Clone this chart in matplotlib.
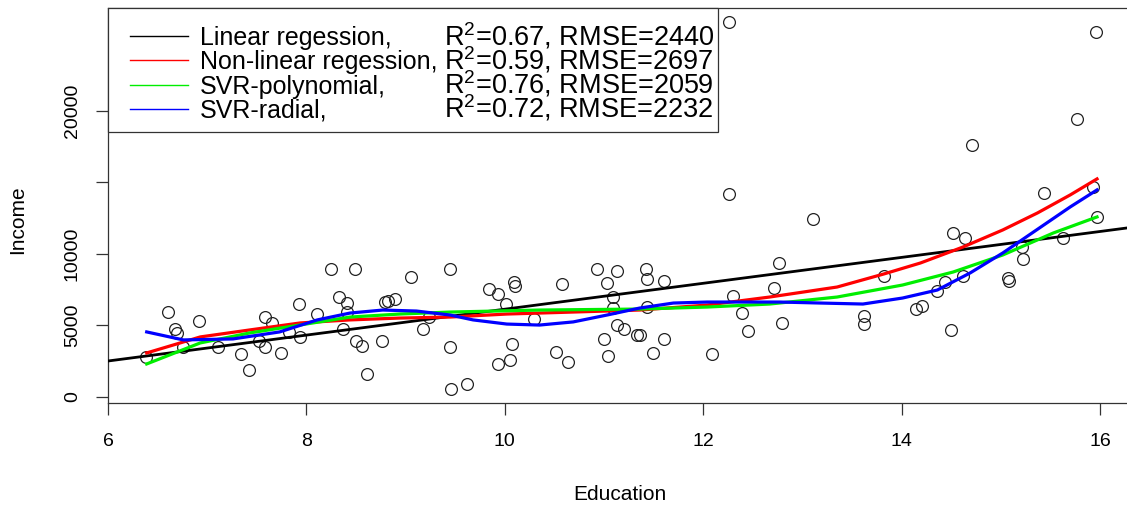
import numpy as np
import matplotlib
matplotlib.use("Agg")
from matplotlib import pyplot as plt
from matplotlib.patches import Rectangle
from matplotlib.lines import Line2D

plt.rcParams['font.family'] = ['Liberation Sans', 'DejaVu Sans']
plt.rcParams['mathtext.fontset'] = 'custom'
plt.rcParams['mathtext.rm'] = 'Liberation Sans'
plt.rcParams['mathtext.it'] = 'Liberation Sans:italic'

# observed data (education in years, income)
education = [6.38, 6.60, 6.68, 6.70, 6.76, 6.92, 7.11, 7.34, 7.42, 7.58,
             7.65, 7.52, 7.58, 7.74, 7.82, 7.93, 7.94, 8.11, 8.25, 8.49,
             8.33, 8.41, 8.41, 8.37, 8.50, 8.56, 8.61, 8.76, 8.79, 8.82,
             8.89, 9.05, 9.18, 9.24, 9.45, 9.45, 9.46, 9.62, 9.84, 9.93,
             10.01, 10.09, 10.10, 10.58, 10.29, 10.07, 10.05, 9.93, 10.52, 10.64,
             10.93, 11.13, 11.03, 11.09, 11.09, 11.13, 11.20, 11.00, 11.04, 11.33,
             11.36, 11.42, 11.43, 11.60, 11.43, 11.60, 11.49, 12.09, 12.26, 12.26,
             12.30, 12.39, 12.45, 12.71, 12.76, 12.79, 13.11, 13.62, 13.62, 13.82,
             14.15, 14.21, 14.36, 14.44, 14.50, 14.52, 14.64, 14.62, 14.71, 15.07,
             15.08, 15.21, 15.22, 15.44, 15.63, 15.77, 15.93, 15.97, 15.96]
income = [2800, 5940, 4760, 4480, 3500, 5310, 3500, 3010, 1890, 5590,
          5170, 3920, 3500, 3080, 4550, 6500, 4200, 5800, 8950, 8950,
          6990, 6570, 5940, 4760, 3920, 3570, 1610, 3920, 6640, 6710,
          6850, 8390, 4760, 5590, 8950, 3500, 560, 910, 7550, 7200,
          6500, 8040, 7760, 7900, 5450, 3710, 2590, 2310, 3150, 2450,
          8950, 8810, 7970, 6990, 6220, 5030, 4760, 4060, 2870, 4340,
          4340, 8950, 8250, 8110, 6290, 4060, 3080, 3010, 26220, 14200,
          7060, 5870, 4620, 7620, 9370, 5170, 12450, 5660, 5100, 8460,
          6150, 6360, 7410, 8040, 4690, 11470, 11120, 8460, 17620, 8320,
          8110, 10490, 9650, 14270, 11120, 19440, 14690, 12590, 25520]

# linear regression line
lin_intercept = -2917
lin_slope = 905.6

# fitted curves
nonlin_x = [6.39, 6.93, 7.43, 7.94, 8.44, 8.94, 9.45, 10.02, 10.69, 11.36,
            12.04, 12.67, 13.35, 13.82, 14.19, 14.62, 15.02, 15.37, 15.70, 15.97]
nonlin_y = [3080, 4200, 4690, 5180, 5390, 5520, 5590, 5800, 5940, 6080,
            6430, 6990, 7690, 8600, 9370, 10490, 11680, 12870, 14130, 15250]

poly_x = [6.39, 6.93, 7.43, 7.94, 8.44, 8.94, 9.45, 10.35, 11.36, 12.04,
          12.67, 13.35, 14.01, 14.52, 15.02, 15.53, 15.97]
poly_y = [2310, 3780, 4480, 5040, 5590, 5800, 5940, 6080, 6150, 6290,
          6500, 6990, 7830, 8740, 9930, 11470, 12590]

radial_x = [6.39, 6.76, 7.26, 7.73, 8.11, 8.44, 8.77, 9.11, 9.45, 9.68,
            10.02, 10.35, 10.69, 11.03, 11.36, 11.70, 12.04, 12.37, 12.77, 13.18,
            13.61, 14.01, 14.36, 14.69, 15.02, 15.36, 15.70, 15.97]
radial_y = [4550, 3990, 4060, 4550, 5390, 5870, 6080, 6010, 5730, 5390,
            5100, 5030, 5250, 5730, 6220, 6570, 6640, 6640, 6640, 6570,
            6500, 6920, 7480, 8670, 10070, 11680, 13290, 14480]

legend_names = ["Linear regession,", "Non-linear regession,",
                "SVR-polynomial,", "SVR-radial,"]
legend_stats = [r"R$^2$=0.67, RMSE=2440", r"R$^2$=0.59, RMSE=2697",
                r"R$^2$=0.76, RMSE=2059", r"R$^2$=0.72, RMSE=2232"]
legend_colors = ["black", "#ff0000", "#00ee00", "#0000ff"]

x_ticks = [6, 8, 10, 12, 14, 16]
y_ticks = [0, 5000, 10000, 15000, 20000]
y_tick_labels = ["0", "5000", "10000", "", "20000"]

W, H = 1127, 507
fig = plt.figure(figsize=(W / 100, H / 100), dpi=100)
AX_L, AX_T, AX_B = 108, 8, 403
AX_W = W - AX_L + 30
ax = fig.add_axes([AX_L / W, (H - AX_B) / H, AX_W / W, (AX_B - AX_T) / H])
px_per_year = 99.2
ax.set_xlim(6, 6 + AX_W / px_per_year)
ax.set_ylim(-420, 27200)

ax.plot(education, income, ls='none', marker='o', ms=8.5, mfc='none',
        mec='#222222', mew=0.9, zorder=2)
ax.axline((0, lin_intercept), slope=lin_slope, color='black', lw=2.0, zorder=3)
ax.plot(nonlin_x, nonlin_y, color=legend_colors[1], lw=2.3, zorder=3)
ax.plot(poly_x, poly_y, color=legend_colors[2], lw=2.3, zorder=3)
ax.plot(radial_x, radial_y, color=legend_colors[3], lw=2.3, zorder=3)

for s in ax.spines.values():
    s.set_linewidth(0.9)
    s.set_color('#333333')

ax.set_xticks(x_ticks)
ax.set_xticklabels([str(t) for t in x_ticks])
ax.set_yticks(y_ticks)
ax.set_yticklabels(y_tick_labels, rotation=90, va='center')
ax.tick_params(axis='both', direction='out', length=8.6, width=0.9,
               color='#333333', labelsize=14)
ax.tick_params(axis='x', pad=13)
ax.tick_params(axis='y', pad=11)

ax.set_xlabel("Education", fontsize=15)
ax.set_ylabel("Income", fontsize=15)
ax.xaxis.set_label_coords((620 - AX_L) / AX_W, (AX_B - 485) / (AX_B - AX_T))
ax.yaxis.set_label_coords((27 - AX_L) / AX_W, (AX_B - 220) / (AX_B - AX_T))


# legend drawn by hand (R-style, two text columns)
def fx(px):
    return (px - AX_L) / AX_W


def fy(py):
    return (AX_B - py) / (AX_B - AX_T)


ax.add_patch(Rectangle((fx(108), fy(132)), fx(718) - fx(108), fy(8) - fy(132),
                       transform=ax.transAxes, facecolor='white',
                       edgecolor='#333333', lw=0.9, zorder=5, clip_on=False))
for i in range(4):
    base = 45 + i * 24.3
    ax.add_line(Line2D([fx(130), fx(188)], [fy(base - 9), fy(base - 9)],
                       transform=ax.transAxes, color=legend_colors[i], lw=1.0,
                       zorder=6, clip_on=False))
    ax.text(fx(200), fy(base), legend_names[i], transform=ax.transAxes,
            fontsize=18, ha='left', va='baseline', zorder=6)
    ax.text(fx(714), fy(base), legend_stats[i], transform=ax.transAxes,
            fontsize=19.5, ha='right', va='baseline', zorder=6)

fig.savefig("out.png", dpi=100)
